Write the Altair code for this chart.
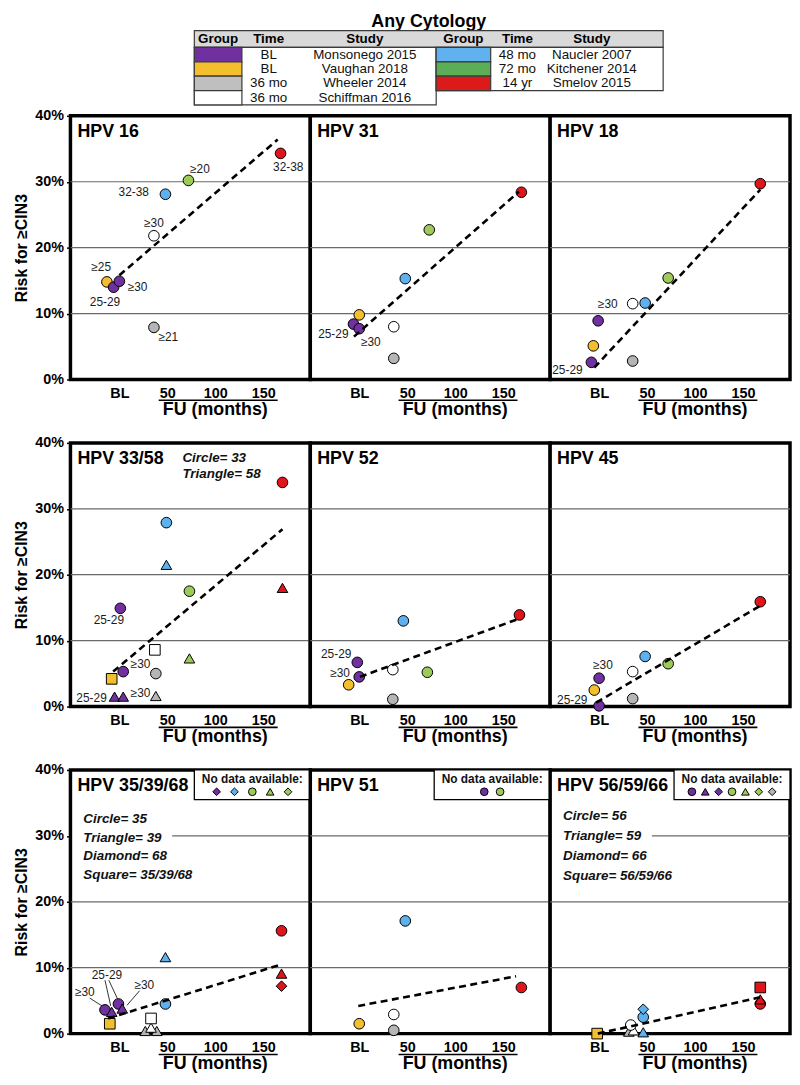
import altair as alt
import pandas as pd

FONT = "Liberation Sans"

# ---------------- data ----------------
STUDY_FILL = {"MON": "#7030A0", "VAU": "#F3BF2E", "WHE": "#B5B5B5", "SCH": "#FFFFFF",
              "NAU": "#5DB1EE", "KIT": "#9DCB5A", "SME": "#E0141B"}

TBL_HEAD = ["Group", "Time", "Study"]
TBL_LEFT_COLORS = ["#7030A0", "#F3BF2E", "#BFBFBF", "#FFFFFF"]
TBL_LEFT_TIME = ["BL", "BL", "36 mo", "36 mo"]
TBL_LEFT_STUDY = ["Monsonego 2015", "Vaughan 2018", "Wheeler 2014", "Schiffman 2016"]
TBL_RIGHT_COLORS = ["#5FB2EE", "#5BAE55", "#DD1A1A"]
TBL_RIGHT_TIME = ["48 mo", "72 mo", "14 yr"]
TBL_RIGHT_STUDY = ["Naucler 2007", "Kitchener 2014", "Smelov 2015"]

# points: (study, shape, follow-up months, risk %)
P16 = [("WHE", "circle", 36, 7.9), ("SCH", "circle", 36, 21.8), ("NAU", "circle", 48, 28.1),
       ("KIT", "circle", 72, 30.2), ("SME", "circle", 168, 34.3), ("VAU", "circle", -13, 14.8),
       ("MON", "circle", -6, 14.0), ("MON", "circle", 0, 14.9)]
T16 = [(0, 15.8), (165, 36.4)]
L16 = [("32-38", 176, 32.3), ("≥20", 84, 32.0), ("32-38", 15, 28.5), ("≥30", 36, 23.7),
       ("≥25", -19, 17.0), ("25-29", -15, 11.8), ("≥30", 19, 14.0), ("≥21", 51, 6.5)]

P31 = [("WHE", "circle", 36, 3.2), ("SCH", "circle", 36, 8.0), ("NAU", "circle", 48, 15.3),
       ("KIT", "circle", 73, 22.7), ("SME", "circle", 169, 28.4), ("VAU", "circle", 0, 9.8),
       ("MON", "circle", -6, 8.4), ("MON", "circle", 0, 7.7)]
T31 = [(-5.5, 6.5), (166.5, 28.5)]
L31 = [("25-29", -27, 6.9), ("≥30", 12, 5.7)]

P18 = [("WHE", "circle", 35, 2.8), ("MON", "circle", -8, 2.6), ("VAU", "circle", -6, 5.1),
       ("MON", "circle", -1, 8.9), ("SCH", "circle", 35, 11.5), ("NAU", "circle", 48, 11.6),
       ("KIT", "circle", 72, 15.4), ("SME", "circle", 168, 29.7)]
T18 = [(-5, 1.8), (168, 28.8)]
L18 = [("≥30", 9, 11.5), ("25-29", -33, 1.4)]

P3358 = [("WHE", "triangle-up", 38, 1.6), ("MON", "triangle-up", -5, 1.5), ("MON", "triangle-up", 4, 1.5),
         ("VAU", "square", -8, 4.2), ("WHE", "circle", 38, 5.0), ("MON", "circle", 4, 5.3),
         ("KIT", "triangle-up", 73, 7.3), ("SCH", "square", 37, 8.6), ("MON", "circle", 1, 14.9),
         ("KIT", "circle", 73, 17.5), ("SME", "triangle-up", 170, 18.0), ("NAU", "triangle-up", 49, 21.5),
         ("NAU", "circle", 49, 27.9), ("SME", "circle", 170, 34.0)]
T3358 = [(-6.5, 5.3), (170, 26.9)]
L3358 = [("25-29", -11, 13.1), ("≥30", 22, 6.4), ("25-29", -29, 1.3), ("≥30", 22, 2.1)]
N3358 = ["Circle= 33", "Triangle= 58"]

P52 = [("WHE", "circle", 35, 1.1), ("VAU", "circle", -11, 3.3), ("MON", "circle", 0, 4.5),
       ("MON", "circle", -2, 6.7), ("SCH", "circle", 35, 5.6), ("KIT", "circle", 71, 5.2),
       ("NAU", "circle", 46, 13.0), ("SME", "circle", 167, 13.9)]
T52 = [(0.7, 4.5), (166, 13.3)]
L52 = [("25-29", -24, 7.9), ("≥30", -20, 5.1)]

P45 = [("MON", "circle", 0, 0.1), ("WHE", "circle", 35, 1.2), ("VAU", "circle", -5, 2.5),
       ("MON", "circle", 0, 4.3), ("SCH", "circle", 35, 5.3), ("KIT", "circle", 72, 6.5),
       ("NAU", "circle", 48, 7.6), ("SME", "circle", 168, 15.9)]
T45 = [(-3, 0.6), (168, 15.3)]
L45 = [("≥30", 4, 6.3), ("25-29", -28, 1.0)]

P353968 = [("WHE", "triangle-up", 27, 0.4), ("WHE", "triangle-up", 39, 0.4), ("SCH", "triangle-up", 33, 0.9),
           ("SCH", "square", 33, 2.3), ("VAU", "square", -10, 1.5), ("MON", "circle", -15, 3.6),
           ("MON", "triangle-up", -8, 3.3), ("MON", "circle", -1, 4.5), ("MON", "triangle-up", 3, 3.8),
           ("NAU", "circle", 48, 4.5), ("NAU", "triangle-up", 48, 11.6), ("SME", "diamond", 169, 7.2),
           ("SME", "triangle-up", 169, 9.1), ("SME", "circle", 169, 15.6)]
T353968 = [(-11.7, 2.3), (166.6, 10.4)]
L353968 = [("≥30", -36, 6.3), ("25-29", -13, 8.9), ("≥30", 26, 7.3)]
LEAD353968 = [(-31, 5.4, -17, 4.1), (-15, 8.1, -9, 4.2), (-11, 8.1, -2, 5.3), (21, 6.5, 8, 4.3)]
N353968 = ["Circle= 35", "Triangle= 39", "Diamond= 68", "Square= 35/39/68"]
ND353968 = [("MON", "diamond"), ("NAU", "diamond"), ("KIT", "circle"), ("KIT", "triangle-up"), ("KIT", "diamond")]

P51 = [("WHE", "circle", 36, 0.5), ("VAU", "circle", 0, 1.5), ("SCH", "circle", 36, 2.9),
       ("SME", "circle", 169, 7.0), ("NAU", "circle", 48, 17.1)]
T51 = [(-1, 4.2), (163.5, 8.7)]
ND51 = [("MON", "circle"), ("KIT", "circle")]

P565966 = [("NAU", "triangle-up", 46, 0.2), ("WHE", "triangle-up", 31, 0.3), ("SCH", "triangle-up", 36, 0.5),
           ("SCH", "circle", 33, 1.3), ("VAU", "square", -2, 0.0), ("NAU", "circle", 46, 2.5),
           ("NAU", "diamond", 46, 3.7), ("SME", "circle", 168, 4.5), ("SME", "triangle-up", 168, 5.2),
           ("SME", "square", 168, 7.0)]
T565966 = [(-1.3, 0.0), (167.6, 5.5)]
N565966 = ["Circle= 56", "Triangle= 59", "Diamond= 66", "Square= 56/59/66"]
ND565966 = [("MON", "circle"), ("MON", "triangle-up"), ("MON", "diamond"), ("KIT", "circle"),
            ("KIT", "triangle-up"), ("KIT", "diamond"), ("WHE", "diamond")]

X_TICKS = [0, 50, 100, 150]
Y_TICKS = [0, 10, 20, 30, 40]
GRID_LEVELS = [10, 20, 30]
FU_TITLE = "FU (months)"
FU_CENTER = 100
FU_LINE = (41, 165)

PANELS = [
    dict(title="HPV 16", pts=P16, trend=T16, labels=L16),
    dict(title="HPV 31", pts=P31, trend=T31, labels=L31),
    dict(title="HPV 18", pts=P18, trend=T18, labels=L18),
    dict(title="HPV 33/58", pts=P3358, trend=T3358, labels=L3358, notes=N3358, note_layout=(113, 15, 16.5)),
    dict(title="HPV 52", pts=P52, trend=T52, labels=L52),
    dict(title="HPV 45", pts=P45, trend=T45, labels=L45),
    dict(title="HPV 35/39/68", pts=P353968, trend=T353968, labels=L353968, leaders=LEAD353968,
         notes=N353968, note_layout=(13, 50, 18.5), nodata=ND353968, nd_step=18, grid30_start=55),
    dict(title="HPV 51", pts=P51, trend=T51, labels=[], nodata=ND51, nd_step=16),
    dict(title="HPV 56/59/66", pts=P565966, trend=T565966, labels=[], notes=N565966,
         note_layout=(13, 46, 20.5), nodata=ND565966, nd_step=13.5, grid30_start=55),
]

# ---------------- layout ----------------
W, H = 242, 266
XDOM = [-51, 199]
YDOM = [0, 40]
XS = alt.Scale(domain=XDOM, nice=False, zero=False)
YS = alt.Scale(domain=YDOM, nice=False, zero=False)


def px2x(px):
    return XDOM[0] + px / W * (XDOM[1] - XDOM[0])


def py2y(py):
    return YDOM[1] - py / H * (YDOM[1] - YDOM[0])


XAXIS = alt.Axis(values=X_TICKS, labelExpr="datum.value == 0 ? 'BL' : datum.label",
                 labelFont=FONT, labelFontSize=14.5, labelFontWeight="bold", labelColor="black",
                 labelPadding=7, labelFlush=False, labelOverlap=False, ticks=False, tickSize=0,
                 domain=False, grid=False, title="", zindex=1)
YAXIS = alt.Axis(values=Y_TICKS, labelExpr="datum.value + '%'", labelFont=FONT, labelFontSize=14.5,
                 labelFontWeight="bold", labelColor="black", labelPadding=3, tickSize=4,
                 tickColor="black", tickWidth=1.5, domain=False, grid=False,
                 title="Risk for ≥CIN3", titleFont=FONT, titleFontSize=16, titleFontWeight="bold",
                 titleColor="black", titlePadding=5, zindex=1)


def make_panel(cfg, first_col):
    yax = YAXIS if first_col else None

    def xy(xf="x", yf="y"):
        return dict(x=alt.X(f"{xf}:Q", scale=XS, axis=XAXIS), y=alt.Y(f"{yf}:Q", scale=YS, axis=yax))

    layers = []
    one = pd.DataFrame({"k": [0]})
    layers.append(alt.Chart(one).mark_rect(fill="white", stroke="black", strokeWidth=3.5).encode(
        x=alt.value(0), x2=alt.value(W), y=alt.value(0), y2=alt.value(H)))

    g30 = cfg.get("grid30_start", XDOM[0])
    gdf = pd.DataFrame({"y": GRID_LEVELS,
                        "x": [XDOM[0] if l != 30 else g30 for l in GRID_LEVELS],
                        "x1": [XDOM[1]] * len(GRID_LEVELS)})
    layers.append(alt.Chart(gdf).mark_rule(color="#6A6A6A", strokeWidth=1.2).encode(x2="x1:Q", **xy()))

    if cfg.get("leaders"):
        ldf = pd.DataFrame(cfg["leaders"], columns=["x", "y", "x2", "y2"])
        layers.append(alt.Chart(ldf).mark_rule(color="#333333", strokeWidth=1).encode(
            x2="x2:Q", y2="y2:Q", **xy()))

    pdf = pd.DataFrame(cfg["pts"], columns=["study", "shape", "x", "y"])
    pdf["fill"] = pdf["study"].map(STUDY_FILL)
    layers.append(alt.Chart(pdf).mark_point(filled=True, size=115, stroke="black", strokeWidth=1,
                                            opacity=1).encode(
        shape=alt.Shape("shape:N", scale=None), fill=alt.Fill("fill:N", scale=None), **xy()))

    tdf = pd.DataFrame(cfg["trend"], columns=["x", "y"])
    layers.append(alt.Chart(tdf).mark_line(color="black", strokeWidth=2.6, strokeDash=[7, 4.5]).encode(**xy()))

    if cfg.get("labels"):
        ldf = pd.DataFrame(cfg["labels"], columns=["t", "x", "y"])
        layers.append(alt.Chart(ldf).mark_text(font=FONT, fontSize=12, color="#1A1A1A").encode(
            text="t:N", **xy()))

    layers.append(alt.Chart(pd.DataFrame({"t": [cfg["title"]]})).mark_text(
        align="left", baseline="middle", font=FONT, fontSize=18, fontWeight="bold", color="black").encode(
        x=alt.value(7), y=alt.value(16), text="t:N"))

    if cfg.get("notes"):
        nx, ny0, ndy = cfg["note_layout"]
        ndf = pd.DataFrame({"t": cfg["notes"]})
        ndf["x"] = px2x(nx)
        ndf["y"] = [py2y(ny0 + i * ndy) for i in range(len(ndf))]
        layers.append(alt.Chart(ndf).mark_text(align="left", baseline="middle", font=FONT, fontSize=13.5,
                                               fontWeight="bold", fontStyle="italic", color="#111111").encode(
            text="t:N", **xy()))

    if cfg.get("nodata"):
        bx0 = 125
        bdf = pd.DataFrame({"x": [px2x(bx0)], "x2": [XDOM[1]], "y": [YDOM[1]], "y2": [py2y(30)]})
        layers.append(alt.Chart(bdf).mark_rect(fill="white", stroke="black", strokeWidth=1.3).encode(
            x2="x2:Q", y2="y2:Q", **xy()))
        cx = (bx0 + W) / 2
        tdf2 = pd.DataFrame({"t": ["No data available:"], "x": [px2x(cx)], "y": [py2y(9)]})
        layers.append(alt.Chart(tdf2).mark_text(font=FONT, fontSize=12, fontWeight="bold", color="#111111").encode(
            text="t:N", **xy()))
        nd = pd.DataFrame(cfg["nodata"], columns=["study", "shape"])
        n = len(nd)
        step = cfg["nd_step"]
        nd["x"] = [px2x(cx + (i - (n - 1) / 2) * step) for i in range(n)]
        nd["y"] = py2y(22)
        nd["fill"] = nd["study"].map(STUDY_FILL)
        layers.append(alt.Chart(nd).mark_point(filled=True, size=60, stroke="black", strokeWidth=1,
                                               opacity=1).encode(
            shape=alt.Shape("shape:N", scale=None), fill=alt.Fill("fill:N", scale=None), **xy()))

    fdf = pd.DataFrame({"t": [FU_TITLE], "x": [FU_CENTER]})
    layers.append(alt.Chart(fdf).mark_text(font=FONT, fontSize=18, fontWeight="bold", color="black").encode(
        x=alt.X("x:Q", scale=XS, axis=XAXIS), y=alt.value(H + 31), text="t:N"))
    udf = pd.DataFrame({"x": [FU_LINE[0]], "x2": [FU_LINE[1]]})
    layers.append(alt.Chart(udf).mark_rule(color="black", strokeWidth=1.6).encode(
        x=alt.X("x:Q", scale=XS, axis=XAXIS), x2="x2:Q", y=alt.value(H + 21)))

    return alt.layer(*layers).properties(width=W, height=H)


# ---------------- header table (pixel layout, origin = left edge of first panel) ----------------
HW, HH = 3 * W, 95
L0, L1, MID, R1, R2 = 125, 173, 369, 424, 598
TOP, HEAD_H, ROW_H = 16, 17, 14.5
COL_X_LEFT = [(L0 + L1) / 2, 200, 297]
COL_X_RIGHT = [(MID + R1) / 2, 451, 526]

rects = [dict(x=L0, x2=R2, y=TOP, y2=TOP + HEAD_H, fill="#D9D9D9"),
         dict(x=L0, x2=MID, y=TOP + HEAD_H, y2=TOP + HEAD_H + len(TBL_LEFT_STUDY) * ROW_H, fill="#FFFFFF"),
         dict(x=MID, x2=R2, y=TOP + HEAD_H, y2=TOP + HEAD_H + len(TBL_RIGHT_STUDY) * ROW_H, fill="#FFFFFF")]
for i, c in enumerate(TBL_LEFT_COLORS):
    rects.append(dict(x=L0, x2=L1, y=TOP + HEAD_H + i * ROW_H, y2=TOP + HEAD_H + (i + 1) * ROW_H, fill=c))
for i, c in enumerate(TBL_RIGHT_COLORS):
    rects.append(dict(x=MID, x2=R1, y=TOP + HEAD_H + i * ROW_H, y2=TOP + HEAD_H + (i + 1) * ROW_H, fill=c))
rdf = pd.DataFrame(rects)

head_txt = []
for xs in (COL_X_LEFT, COL_X_RIGHT):
    for t, x in zip(TBL_HEAD, xs):
        head_txt.append(dict(t=t, x=x, y=TOP + HEAD_H / 2))
hdf = pd.DataFrame(head_txt)

body_txt = []
for times, studies, xs in ((TBL_LEFT_TIME, TBL_LEFT_STUDY, COL_X_LEFT),
                           (TBL_RIGHT_TIME, TBL_RIGHT_STUDY, COL_X_RIGHT)):
    for i, (tm, st) in enumerate(zip(times, studies)):
        yc = TOP + HEAD_H + i * ROW_H + ROW_H / 2
        body_txt.append(dict(t=tm, x=xs[1], y=yc))
        body_txt.append(dict(t=st, x=xs[2], y=yc))
bdf_txt = pd.DataFrame(body_txt)

PX = dict(x=alt.X("x:Q", scale=None, axis=None), y=alt.Y("y:Q", scale=None, axis=None))

header = alt.layer(
    alt.Chart(pd.DataFrame({"t": ["Any Cytology"], "x": [(L0 + R2) / 2], "y": [7]})).mark_text(
        font=FONT, fontSize=18, fontWeight="bold", color="black", baseline="middle").encode(text="t:N", **PX),
    alt.Chart(rdf).mark_rect(stroke="#3A3A3A", strokeWidth=1.2).encode(
        x2="x2:Q", y2="y2:Q", fill=alt.Fill("fill:N", scale=None), **PX),
    alt.Chart(hdf).mark_text(font=FONT, fontSize=13.5, fontWeight="bold", color="black",
                             baseline="middle").encode(text="t:N", **PX),
    alt.Chart(bdf_txt).mark_text(font=FONT, fontSize=13.5, color="#111111", baseline="middle").encode(
        text="t:N", **PX),
).properties(width=HW, height=HH)

grid = alt.concat(*[make_panel(PANELS[i], i % 3 == 0) for i in range(9)],
                  columns=3, spacing={"row": 64, "column": 0}, bounds="flush")

chart = alt.vconcat(header, grid, spacing=7, bounds="flush").properties(
    padding={"left": 5, "right": 0, "top": 0, "bottom": 0}
).configure(font=FONT, background="white").configure_view(strokeWidth=0)

chart.save("out.html", embed_options={"renderer": "svg", "actions": False})
